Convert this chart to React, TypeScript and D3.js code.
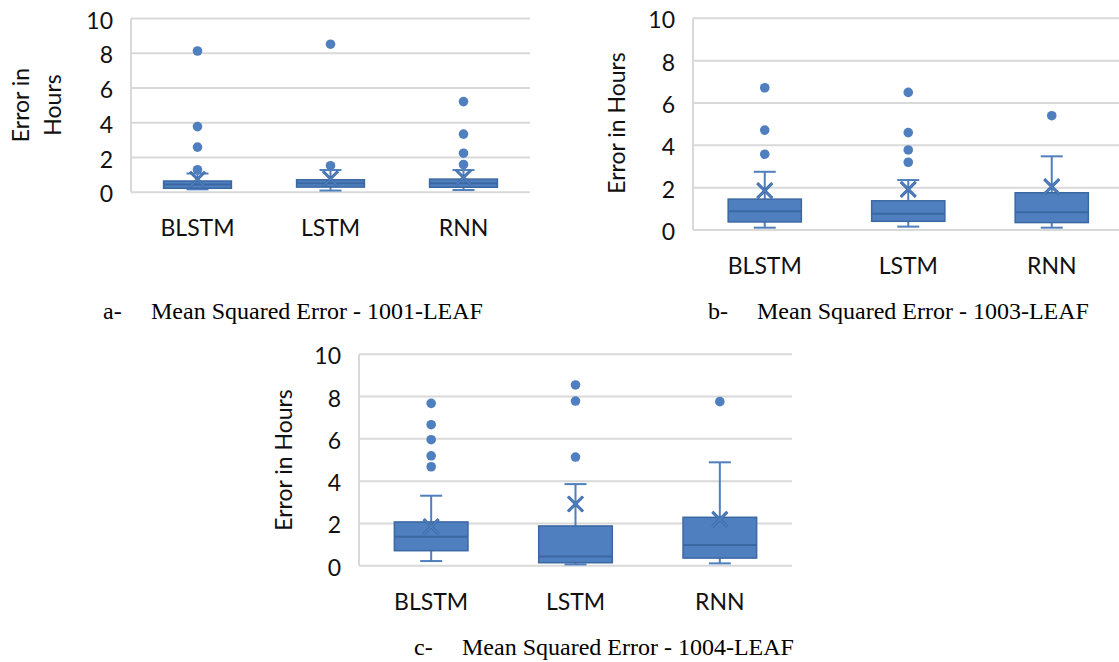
import React from "react";
import * as d3 from "d3";

// categories and axis ticks
const categories = ["BLSTM", "LSTM", "RNN"];
const yTicks = [0, 2, 4, 6, 8, 10];

// box stats per category: [lower whisker, q1, median, q3, upper whisker]
const leaf1001Box = [
  [0.17, 0.23, 0.45, 0.65, 1.08],
  [0.1, 0.3, 0.52, 0.72, 1.28],
  [0.13, 0.29, 0.52, 0.76, 1.28],
];
const leaf1001Mean = [0.75, 0.78, 0.85];
const leaf1001Outliers = [
  [8.13, 3.78, 2.6, 1.3],
  [8.52, 1.53],
  [5.22, 3.35, 2.25, 1.6],
];

const leaf1003Box = [
  [0.11, 0.38, 0.88, 1.46, 2.75],
  [0.16, 0.41, 0.77, 1.38, 2.36],
  [0.11, 0.35, 0.84, 1.76, 3.48],
];
const leaf1003Mean = [1.86, 1.92, 2.05];
const leaf1003Outliers = [
  [6.72, 4.72, 3.58],
  [6.5, 4.6, 3.78, 3.2],
  [5.4],
];

const leaf1004Box = [
  [0.22, 0.71, 1.37, 2.07, 3.31],
  [0.06, 0.14, 0.44, 1.88, 3.86],
  [0.11, 0.36, 0.98, 2.29, 4.89],
];
const leaf1004Mean = [1.85, 2.92, 2.19];
const leaf1004Outliers = [
  [7.68, 6.67, 5.96, 5.2, 4.68],
  [8.55, 7.79, 5.14],
  [7.76],
];

const BLUE = "#4f7fbe";
const DARK = "#3b68a2";
const GRID = "#d9d9d9";
const SANS = "Lato, 'Open Sans', sans-serif";
const SERIF = "'Liberation Serif', 'Times New Roman', serif";

type PanelProps = {
  left: number; right: number; y0: number; y10: number;
  box: number[][]; mean: number[]; outliers: number[][];
  titleLines: string[]; titleX: number[]; titleY: number;
  caption: string; letter: string; letterX: number; captionX: number; captionY: number;
};

function Panel(p: PanelProps) {
  const x = d3.scaleBand().domain(categories).range([p.left, p.right]).padding(0);
  const y = d3.scaleLinear().domain([0, 10]).range([p.y0, p.y10]);
  const bw = x.bandwidth() * 0.51;
  const cap = 11;
  const xs = 7.5; // half size of the mean "x"
  return (
    <g>
      {yTicks.map((t) => (
        <g key={t}>
          <line x1={p.left} x2={p.right} y1={y(t)} y2={y(t)} stroke={GRID} strokeWidth={2} />
          <text x={p.left - 18} y={y(t) + 10} textAnchor="end" fontFamily={SANS} fontSize={23} fill="#111">
            {t}
          </text>
        </g>
      ))}
      <line x1={p.left} x2={p.left} y1={y(10)} y2={y(0)} stroke={GRID} strokeWidth={2} />
      {categories.map((c, i) => {
        const cx = (x(c) as number) + x.bandwidth() / 2;
        const [lo, q1, med, q3, hi] = p.box[i];
        const m = p.mean[i];
        return (
          <g key={c}>
            <line x1={cx} x2={cx} y1={y(hi)} y2={y(q3)} stroke={BLUE} strokeWidth={2} />
            <line x1={cx} x2={cx} y1={y(q1)} y2={y(lo)} stroke={BLUE} strokeWidth={2} />
            <line x1={cx - cap} x2={cx + cap} y1={y(hi)} y2={y(hi)} stroke={BLUE} strokeWidth={2} />
            <line x1={cx - cap} x2={cx + cap} y1={y(lo)} y2={y(lo)} stroke={BLUE} strokeWidth={2} />
            <rect x={cx - bw / 2} y={y(q3)} width={bw} height={y(q1) - y(q3)} fill={BLUE} stroke={DARK} strokeWidth={1.5} />
            <line x1={cx - bw / 2} x2={cx + bw / 2} y1={y(med)} y2={y(med)} stroke={DARK} strokeWidth={2} />
            {/* mean marker, dark outline so it stays visible over the box */}
            <path
              d={`M${cx - xs},${y(m) - xs}L${cx + xs},${y(m) + xs}M${cx - xs},${y(m) + xs}L${cx + xs},${y(m) - xs}`}
              stroke={DARK}
              strokeWidth={3}
              fill="none"
            />
            <path
              d={`M${cx - xs},${y(m) - xs}L${cx + xs},${y(m) + xs}M${cx - xs},${y(m) + xs}L${cx + xs},${y(m) - xs}`}
              stroke={BLUE}
              strokeWidth={1.6}
              fill="none"
            />
            {p.outliers[i].map((o, j) => (
              <circle key={j} cx={cx} cy={y(o)} r={4.8} fill={BLUE} />
            ))}
            <text x={cx} y={p.y0 + 44} textAnchor="middle" fontFamily={SANS} fontSize={23} fill="#111">
              {c}
            </text>
          </g>
        );
      })}
      {p.titleLines.map((t, i) => (
        <text
          key={t}
          transform={`translate(${p.titleX[i]},${p.titleY}) rotate(-90)`}
          textAnchor="middle"
          dominantBaseline="central"
          fontFamily={SANS}
          fontSize={23}
          fill="#111"
        >
          {t}
        </text>
      ))}
      <text x={p.letterX} y={p.captionY} fontFamily={SERIF} fontSize={24} fill="#000">{p.letter}</text>
      <text x={p.captionX} y={p.captionY} fontFamily={SERIF} fontSize={24} fill="#000">{p.caption}</text>
    </g>
  );
}

export default function App() {
  return (
    <svg width={1119} height={662} style={{ position: "absolute", left: 0, top: 0, background: "#fff" }}>
      <rect width={1119} height={662} fill="#fff" />
      <Panel
        left={131} right={530} y0={192.3} y10={18.5}
        box={leaf1001Box} mean={leaf1001Mean} outliers={leaf1001Outliers}
        titleLines={["Error in", "Hours"]} titleX={[20, 52]} titleY={105}
        letter="a-" letterX={103} caption="Mean Squared Error - 1001-LEAF" captionX={151} captionY={319}
      />
      <Panel
        left={693} right={1123.5} y0={230} y10={18.3}
        box={leaf1003Box} mean={leaf1003Mean} outliers={leaf1003Outliers}
        titleLines={["Error in Hours"]} titleX={[616]} titleY={123}
        letter="b-" letterX={708} caption="Mean Squared Error - 1003-LEAF" captionX={757} captionY={319}
      />
      <Panel
        left={359} right={792} y0={565.7} y10={354.3}
        box={leaf1004Box} mean={leaf1004Mean} outliers={leaf1004Outliers}
        titleLines={["Error in Hours"]} titleX={[283]} titleY={460}
        letter="c-" letterX={414} caption="Mean Squared Error - 1004-LEAF" captionX={462} captionY={655}
      />
    </svg>
  );
}
